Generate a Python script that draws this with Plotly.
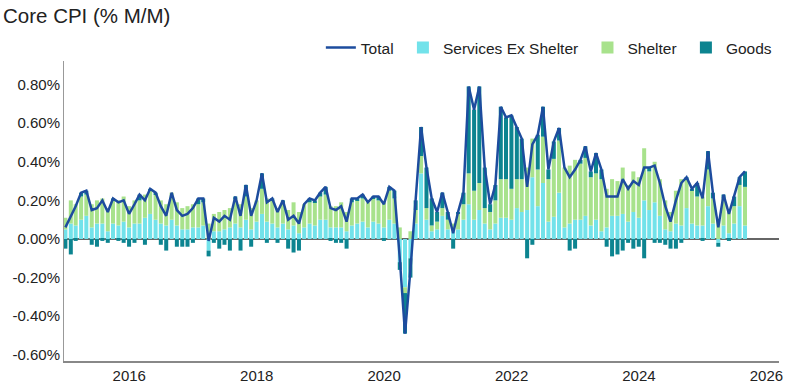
import pandas as pd
import plotly.graph_objects as go

# Monthly data, Dec 2014 .. Aug 2025 (percent, month over month), dated at month end
months = pd.date_range("2014-12-31", "2025-08-31", freq="ME")

total = [
    0.06,
    0.12, 0.17, 0.24, 0.25, 0.15, 0.16, 0.20, 0.14, 0.21, 0.19, 0.20, 0.13,   # 2015
    0.18, 0.23, 0.20, 0.26, 0.24, 0.17, 0.12, 0.24, 0.15, 0.12, 0.13, 0.16,   # 2016
    0.21, 0.21, -0.01, 0.11, 0.09, 0.12, 0.10, 0.22, 0.12, 0.28, 0.12, 0.20,  # 2017
    0.34, 0.19, 0.21, 0.14, 0.20, 0.10, 0.12, 0.08, 0.18, 0.21, 0.20, 0.24,   # 2018
    0.27, 0.16, 0.15, 0.17, 0.09, 0.21, 0.21, 0.23, 0.19, 0.22, 0.22, 0.18,   # 2019
    0.27, 0.25, -0.10, -0.49, -0.16, 0.20, 0.58, 0.37, 0.21, 0.14, 0.24, 0.14,  # 2020
    0.03, 0.14, 0.24, 0.79, 0.67, 0.79, 0.37, 0.18, 0.28, 0.685, 0.63, 0.64,  # 2021
    0.58, 0.52, 0.27, 0.49, 0.54, 0.685, 0.36, 0.505, 0.575, 0.37, 0.32, 0.36,  # 2022
    0.41, 0.48, 0.35, 0.445, 0.36, 0.22, 0.22, 0.22, 0.31, 0.26, 0.30, 0.28,  # 2023
    0.37, 0.37, 0.38, 0.29, 0.17, 0.09, 0.20, 0.29, 0.32, 0.26, 0.29, 0.21,   # 2024
    0.455, 0.24, 0.06, 0.23, 0.13, 0.22, 0.32, 0.35,                          # 2025
]

services_ex_shelter = [
    0.05,
    0.08, 0.07, 0.10, 0.12, 0.06, 0.08, 0.08, 0.04, 0.08, 0.07, 0.09, 0.06,
    0.08, 0.08, 0.11, 0.13, 0.10, 0.08, 0.07, 0.10, 0.07, 0.05, 0.05, 0.06,
    0.06, 0.07, -0.06, 0.04, 0.04, 0.05, 0.06, 0.08, 0.06, 0.10, 0.05, 0.09,
    0.13, 0.09, 0.08, 0.06, 0.08, 0.05, 0.07, 0.03, 0.06, 0.08, 0.07, 0.10,
    0.10, 0.06, 0.06, 0.06, 0.04, 0.07, 0.08, 0.09, 0.06, 0.09, 0.08, 0.06,
    0.10, 0.08, -0.12, -0.25, -0.10, 0.08, 0.34, 0.10, 0.04, 0.05, 0.12, 0.05,
    0.04, 0.05, 0.10, 0.18, 0.10, 0.15, 0.08, 0.05, 0.08, 0.11, 0.11, 0.10,
    0.16, 0.14, 0.15, 0.32, 0.17, 0.29, 0.09, 0.115, 0.24, 0.06, 0.08, 0.10,
    0.10, 0.12, 0.07, 0.10, 0.04, 0.06, 0.12, 0.12, 0.13, 0.09, 0.14, 0.11,
    0.20, 0.15, 0.19, 0.12, 0.05, 0.04, 0.08, 0.07, 0.16, 0.08, 0.07, 0.07,
    0.17, 0.08, -0.02, 0.07, 0.03, 0.08, 0.17, 0.07,
]

shelter = [
    0.06,
    0.12, 0.11, 0.12, 0.11, 0.12, 0.12, 0.13, 0.12, 0.12, 0.13, 0.13, 0.11,
    0.12, 0.12, 0.12, 0.12, 0.13, 0.12, 0.11, 0.14, 0.12, 0.11, 0.12, 0.12,
    0.12, 0.12, 0.08, 0.09, 0.10, 0.10, 0.10, 0.13, 0.12, 0.12, 0.11, 0.11,
    0.13, 0.12, 0.12, 0.10, 0.11, 0.10, 0.12, 0.11, 0.12, 0.11, 0.12, 0.12,
    0.13, 0.11, 0.11, 0.13, 0.10, 0.12, 0.12, 0.12, 0.13, 0.12, 0.12, 0.13,
    0.15, 0.13, 0.06, -0.03, 0.04, 0.07, 0.09, 0.06, 0.03, 0.04, 0.04, 0.05,
    0.04, 0.08, 0.08, 0.16, 0.15, 0.14, 0.08, 0.09, 0.12, 0.20, 0.20, 0.16,
    0.15, 0.17, 0.22, 0.20, 0.19, 0.24, 0.22, 0.30, 0.27, 0.31, 0.30, 0.31,
    0.29, 0.30, 0.25, 0.24, 0.27, 0.20, 0.19, 0.18, 0.24, 0.19, 0.21, 0.21,
    0.27, 0.20, 0.21, 0.19, 0.15, 0.10, 0.17, 0.24, 0.15, 0.17, 0.15, 0.15,
    0.19, 0.13, 0.10, 0.14, 0.11, 0.09, 0.11, 0.20,
]

goods = [
    -0.05,
    -0.08, -0.01, 0.02, 0.02, -0.03, -0.04, -0.01, -0.02, 0.01, -0.01, -0.02, -0.04,
    -0.02, 0.03, -0.03, 0.01, 0.01, -0.03, -0.06, 0.00, -0.04, -0.04, -0.04, -0.02,
    0.03, 0.02, -0.03, -0.02, -0.05, -0.03, -0.06, 0.01, -0.06, 0.06, -0.04, 0.00,
    0.08, -0.02, 0.01, -0.02, 0.01, -0.05, -0.07, -0.06, 0.00, 0.02, 0.01, 0.02,
    0.04, -0.01, -0.02, -0.02, -0.05, 0.02, 0.01, 0.02, 0.00, 0.01, 0.02, -0.01,
    0.02, 0.04, -0.04, -0.21, -0.10, 0.05, 0.15, 0.21, 0.14, 0.05, 0.08, 0.04,
    -0.05, 0.01, 0.06, 0.45, 0.42, 0.50, 0.21, 0.04, 0.08, 0.375, 0.32, 0.38,
    0.27, 0.21, -0.10, -0.03, 0.18, 0.155, 0.05, 0.09, 0.065, 0.00, -0.06, -0.05,
    0.02, 0.06, 0.03, 0.105, 0.05, -0.04, -0.09, -0.08, -0.06, -0.02, -0.05, -0.04,
    -0.10, 0.02, -0.02, -0.02, -0.03, -0.05, -0.05, -0.02, 0.01, 0.01, 0.07, -0.01,
    0.095, 0.03, -0.02, 0.02, -0.01, 0.05, 0.04, 0.08,
]

tick_years = ["2016", "2018", "2020", "2022", "2024", "2026"]
y_ticks = [-0.6, -0.4, -0.2, 0.0, 0.2, 0.4, 0.6, 0.8]

FONT = "Liberation Sans, Arial, sans-serif"
BAR_W = 23 * 24 * 3600 * 1000
NB = "\u00a0"

fig = go.Figure()
fig.add_trace(go.Bar(x=months, y=services_ex_shelter, name="Services Ex Shelter" + NB,
                     marker=dict(color="#72E2EA", line=dict(width=0)), width=BAR_W,
                     legendrank=2))
fig.add_trace(go.Bar(x=months, y=shelter, name="Shelter" + NB,
                     marker=dict(color="#A8E28C", line=dict(width=0)), width=BAR_W,
                     legendrank=3))
fig.add_trace(go.Bar(x=months, y=goods, name="Goods",
                     marker=dict(color="#0C8490", line=dict(width=0)), width=BAR_W,
                     legendrank=4))
fig.add_trace(go.Scatter(x=months, y=total, name="Total" + NB, mode="lines",
                         line=dict(color="#1D4C9E", width=2.5), legendrank=1))

fig.add_annotation(text="Core CPI (% M/M)", xref="paper", yref="paper",
                   x=-62 / 715, y=1 + (61 - 15) / 300, xanchor="left", yanchor="middle",
                   showarrow=False, borderpad=0,
                   font=dict(family=FONT, size=20.5, color="#222222"))

fig.update_layout(
    width=789, height=387,
    margin=dict(l=64, r=10, t=61, b=26, autoexpand=False),
    paper_bgcolor="white", plot_bgcolor="white",
    barmode="relative",
    font=dict(family=FONT, size=15, color="#222222"),
    legend=dict(orientation="h", x=0.997, xanchor="right", y=1 + 13 / 300, yanchor="middle",
                font=dict(family=FONT, size=15.5, color="#222222"),
                bgcolor="rgba(0,0,0,0)", traceorder="normal"),
    showlegend=True,
    xaxis=dict(type="date", range=["2014-12-23", "2026-03-14"],
               tickvals=[f"{y}-01-01" for y in tick_years], ticktext=tick_years,
               showgrid=False, showline=True, linecolor="#888888", linewidth=1.5,
               ticks="", zeroline=False, automargin=False),
    yaxis=dict(range=[-0.632, 0.922], tickvals=y_ticks,
               ticktext=[f"{v:.2f}%" for v in y_ticks],
               showgrid=False, showline=True, linecolor="#999999", linewidth=1,
               ticks="", zeroline=True, zerolinecolor="#666666", zerolinewidth=2,
               automargin=False),
)

fig.write_html("out.html", config={"displayModeBar": False},
               post_script="document.body.style.margin='0';document.body.style.padding='0';")
